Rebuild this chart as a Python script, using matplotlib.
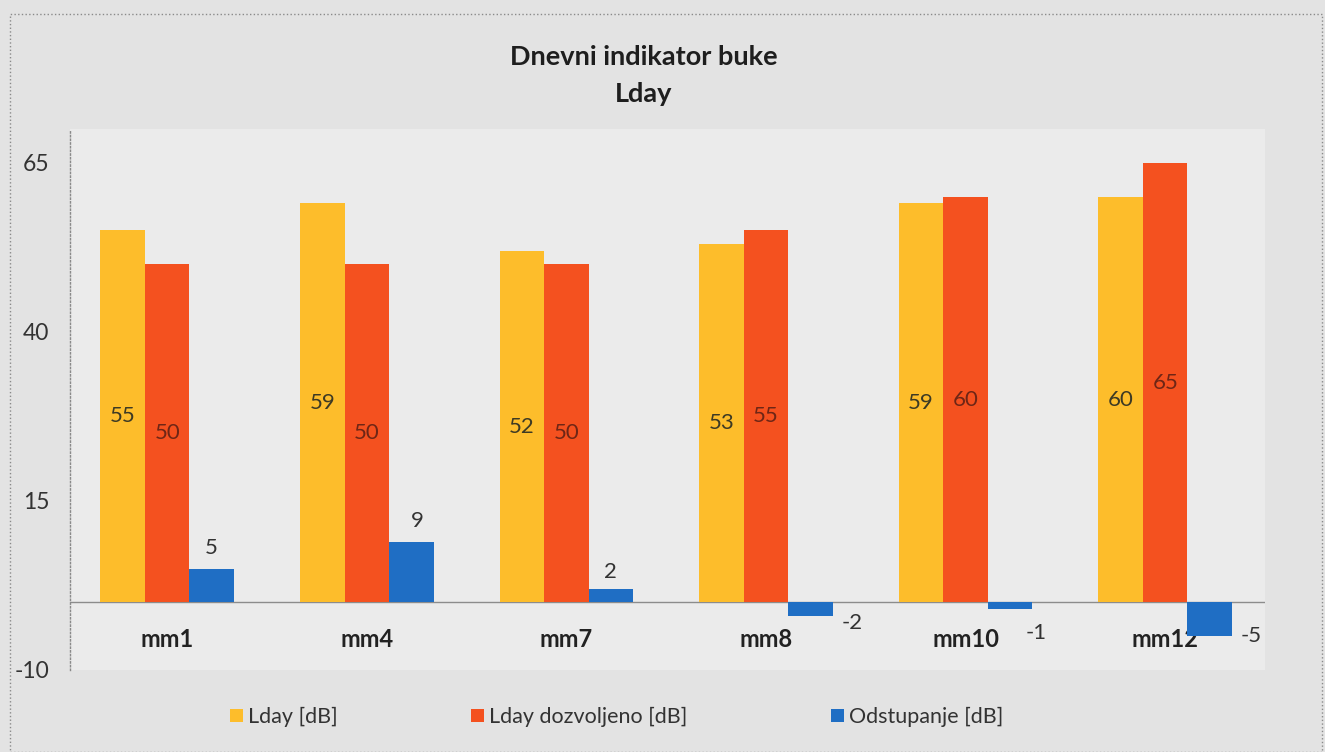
import numpy as np
import matplotlib.pyplot as plt
from matplotlib.patches import Rectangle

plt.rcParams['font.family'] = ['Lato', 'DejaVu Sans']

# podaci
categories = ['mm1', 'mm4', 'mm7', 'mm8', 'mm10', 'mm12']
lday = [55, 59, 52, 53, 59, 60]
lday_dozvoljeno = [50, 50, 50, 55, 60, 65]
odstupanje = [5, 9, 2, -2, -1, -5]
series_names = ['Lday [dB]', 'Lday dozvoljeno [dB]', 'Odstupanje [dB]']
yticks = [-10, 15, 40, 65]

# pomaci oznaka za plave stupce (u tockama)
blue_label_offsets = [(0, 15), (4, 15), (0, 12), (30, -5), (19, -17), (30, 0)]

c_yellow = '#FDBD2B'
c_red = '#F4511F'
c_blue = '#1F6EC4'

fig = plt.figure(figsize=(13.25, 7.52), dpi=100)
fig.patch.set_facecolor('#e3e3e3')
# tockasti okvir oko grafikona
fig.patches.append(Rectangle((10/1325, 0), 1312/1325, 1 - 14/752, transform=fig.transFigure,
                             fill=False, edgecolor='#8a8a8a', linestyle=':', linewidth=1))

ax = fig.add_axes([70/1325, 1 - 670/752, 1195/1325, 541/752])
ax.set_facecolor('#ebebeb')

x = np.arange(len(categories))
w = 0.223
b1 = ax.bar(x - w, lday, w, color=c_yellow, zorder=2)
b2 = ax.bar(x, lday_dozvoljeno, w, color=c_red, zorder=2)
b3 = ax.bar(x + w, odstupanje, w, color=c_blue, zorder=2)

ax.set_xlim(-0.487, 5.5)
ax.set_ylim(-10, 70)
ax.axhline(0, color='#8c8c8c', linewidth=1, zorder=1.5)

for s in ['top', 'right', 'bottom']:
    ax.spines[s].set_visible(False)
ax.spines['left'].set_color('#8a8a8a')
ax.spines['left'].set_linestyle(':')
ax.spines['left'].set_linewidth(1)

ax.set_xticks([])
ax.set_yticks(yticks)
ax.set_yticklabels([str(v) for v in yticks])
ax.tick_params(axis='y', length=0, pad=15, labelsize=16.5, labelcolor='#333333')

# oznake kategorija ispod nule (ispod stupaca)
for i, name in enumerate(categories):
    ax.annotate(name, xy=(i, 0), xytext=(0, -27), textcoords='offset points',
                ha='center', va='center', fontsize=17, fontweight='bold', color='#222222',
                zorder=1)

# oznake vrijednosti u sredini stupaca
for i in range(len(categories)):
    ax.text(i - w, lday[i] / 2, str(lday[i]), ha='center', va='center',
            fontsize=16, color='#3d3a24', zorder=3)
    ax.text(i, lday_dozvoljeno[i] / 2, str(lday_dozvoljeno[i]), ha='center', va='center',
            fontsize=16, color='#6e2616', zorder=3)
    ax.annotate(str(odstupanje[i]), xy=(i + w, odstupanje[i]), xytext=blue_label_offsets[i],
                textcoords='offset points', ha='center', va='center', fontsize=16,
                color='#333333', zorder=3)

# naslov
fig.text(644/1325, 1 - 57/752, 'Dnevni indikator buke', ha='center', va='center',
         fontsize=19.5, fontweight='bold', color='#1e1e1e')
fig.text(644/1325, 1 - 94/752, 'Lday', ha='center', va='center',
         fontsize=19.5, fontweight='bold', color='#1e1e1e')

# legenda
leg_x = [230, 471, 831]
for bars, name, lx in zip([b1, b2, b3], series_names, leg_x):
    fig.legend(handles=[bars], labels=[name], loc='center left',
               bbox_to_anchor=(lx/1325, 1 - 717/752), frameon=False,
               fontsize=15.5, handlelength=0.6, handleheight=0.6, handletextpad=0.25,
               labelcolor='#333333', borderpad=0, borderaxespad=0)

plt.savefig('out.png', dpi=100, facecolor=fig.get_facecolor())
